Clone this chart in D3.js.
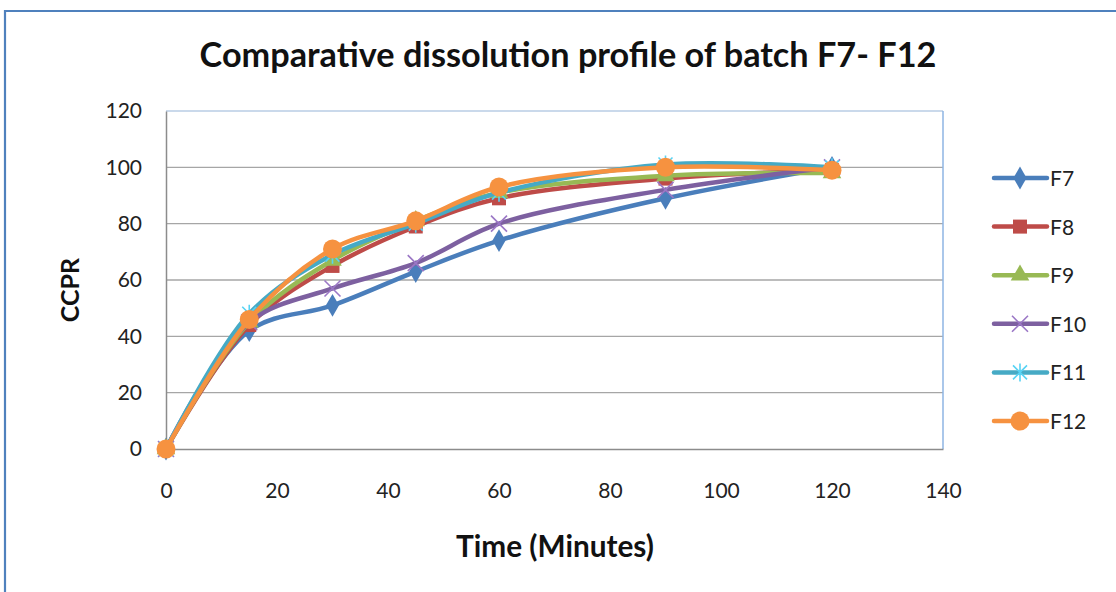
<!DOCTYPE html>
<html>
<head>
<meta charset="utf-8">
<script src="https://cdn.jsdelivr.net/npm/d3@7"></script>
<style>
  html, body { margin: 0; padding: 0; background: #fff; }
  svg { display: block; font-family: Lato, "Open Sans", sans-serif; }
</style>
</head>
<body>
<svg id="chart" width="1116" height="592"></svg>
<script>
// Sampling times (minutes)
const times = [0, 15, 30, 45, 60, 90, 120];

// Cumulative % drug released for each batch
const F7  = [0, 42, 51, 63, 74, 89, 100];
const F8  = [0, 44, 65, 79, 89, 96, 99];
const F9  = [0, 45, 67, 81, 91, 97, 98];
const F10 = [0, 45, 57, 66, 80, 92, 100];
const F11 = [0, 48, 69, 80, 91, 101, 100];
const F12 = [0, 46, 71, 81, 93, 100, 99];

const seriesNames = ["F7", "F8", "F9", "F10", "F11", "F12"];
const seriesValues = [F7, F8, F9, F10, F11, F12];
const seriesColors = ["#4A7EBB", "#BE4B48", "#98B954", "#7D60A0", "#46AAC5", "#F69240"];
const seriesMarkers = ["diamond", "square", "triangle", "x", "asterisk", "circle"];

const xTicks = [0, 20, 40, 60, 80, 100, 120, 140];
const yTicks = [0, 20, 40, 60, 80, 100, 120];

const titleText = "Comparative dissolution profile of batch F7- F12";
const xTitle = "Time (Minutes)";
const yTitle = "CCPR";

const svg = d3.select("#chart");
const W = 1116, H = 592;
const plot = { left: 166, right: 943, top: 111, bottom: 449 };

const x = d3.scaleLinear().domain([0, 140]).range([plot.left, plot.right]);
const y = d3.scaleLinear().domain([0, 120]).range([plot.bottom, plot.top]);

// Scale a text element's font size so it spans the given width
function fitWidth(sel, target) {
  const fs = +sel.attr("font-size");
  const w = sel.node().getComputedTextLength();
  sel.attr("font-size", fs * target / w);
}

// Chart frame (top and left edges visible)
svg.append("line").attr("x1", 5).attr("x2", W).attr("y1", 11).attr("y2", 11)
  .attr("stroke", "#4F81BD").attr("stroke-width", 2.2);
svg.append("line").attr("x1", 5).attr("x2", 5).attr("y1", 10).attr("y2", H)
  .attr("stroke", "#4F81BD").attr("stroke-width", 2.2);

// Title
const title = svg.append("text")
  .attr("x", 568).attr("y", 67)
  .attr("text-anchor", "middle")
  .attr("font-weight", "bold")
  .attr("font-size", 26)
  .attr("fill", "#111")
  .text(titleText);
fitWidth(title, 737);

// Horizontal gridlines
svg.append("g").selectAll("line").data(yTicks.slice(1)).join("line")
  .attr("x1", plot.left).attr("x2", plot.right)
  .attr("y1", d => y(d)).attr("y2", d => y(d))
  .attr("stroke", d => d === 120 ? "#B9CDE5" : "#A6A6A6").attr("stroke-width", 1.3);

// Plot area right edge
svg.append("line").attr("x1", plot.right).attr("x2", plot.right)
  .attr("y1", plot.top).attr("y2", plot.bottom)
  .attr("stroke", "#8EB4E3").attr("stroke-width", 1.5);

// Axes
const yAxis = svg.append("g").attr("transform", `translate(${plot.left},0)`)
  .call(d3.axisLeft(y).tickValues(yTicks).tickSize(0).tickPadding(24));
const xAxis = svg.append("g").attr("transform", `translate(0,${plot.bottom})`)
  .call(d3.axisBottom(x).tickValues(xTicks).tickSize(0).tickPadding(34));
[yAxis, xAxis].forEach(a => {
  a.select(".domain").attr("stroke", "#8C8C8C").attr("stroke-width", 1.5);
  a.selectAll("text").attr("font-size", 21).attr("fill", "#222")
    .attr("font-family", "Lato, 'Open Sans', sans-serif");
});

// Axis titles
const xt = svg.append("text").attr("x", 555).attr("y", 557)
  .attr("text-anchor", "middle").attr("font-weight", "bold").attr("font-size", 22)
  .attr("fill", "#111").text(xTitle);
fitWidth(xt, 198);
svg.append("text").attr("transform", "translate(79,290) rotate(-90)")
  .attr("text-anchor", "middle").attr("font-weight", "bold").attr("font-size", 25)
  .attr("fill", "#111").text(yTitle);

// Marker drawing
function drawMarker(g, type, color) {
  const light = d3.color(color).brighter(0.6).formatHex();
  switch (type) {
    case "diamond":
      g.append("path").attr("d", d3.symbol(d3.symbolDiamond, 150)()).attr("fill", color);
      break;
    case "square":
      g.append("rect").attr("x", -7).attr("y", -7).attr("width", 14).attr("height", 14).attr("fill", color);
      break;
    case "triangle":
      g.append("path").attr("d", d3.symbol(d3.symbolTriangle, 150)()).attr("fill", color);
      break;
    case "x":
      g.append("path").attr("d", "M-8,-8L8,8M-8,8L8,-8").attr("stroke", light).attr("stroke-width", 1.6).attr("fill", "none");
      break;
    case "asterisk":
      g.append("path").attr("d", "M-7,-7L7,7M-7,7L7,-7M0,-9L0,9").attr("stroke", light).attr("stroke-width", 1.6).attr("fill", "none");
      break;
    case "circle":
      g.append("circle").attr("r", 9.5).attr("fill", color);
      break;
  }
}

const line = d3.line()
  .x((d, i) => x(times[i]))
  .y(d => y(d))
  .curve(d3.curveCatmullRom.alpha(0.5));

const seriesG = svg.append("g");
seriesNames.forEach((name, si) => {
  const g = seriesG.append("g");
  g.append("path").datum(seriesValues[si])
    .attr("d", line)
    .attr("fill", "none")
    .attr("stroke", seriesColors[si])
    .attr("stroke-width", 4.5)
    .attr("stroke-linejoin", "round")
    .attr("stroke-linecap", "round");
  seriesValues[si].forEach((v, i) => {
    const m = g.append("g").attr("transform", `translate(${x(times[i])},${y(v)})`);
    drawMarker(m, seriesMarkers[si], seriesColors[si]);
  });
});

// Legend
const legend = svg.append("g");
const legendY = d3.scalePoint().domain(seriesNames).range([178, 421]);
seriesNames.forEach((name, si) => {
  const ly = legendY(name);
  const lg = legend.append("g");
  lg.append("line").attr("x1", 994).attr("x2", 1047).attr("y1", ly).attr("y2", ly)
    .attr("stroke", seriesColors[si]).attr("stroke-width", 4.5).attr("stroke-linecap", "round");
  const m = lg.append("g").attr("transform", `translate(1020,${ly})`);
  drawMarker(m, seriesMarkers[si], seriesColors[si]);
  lg.append("text").attr("x", 1050).attr("y", ly + 8)
    .attr("font-size", 21).attr("fill", "#222").text(name);
});
</script>
</body>
</html>
